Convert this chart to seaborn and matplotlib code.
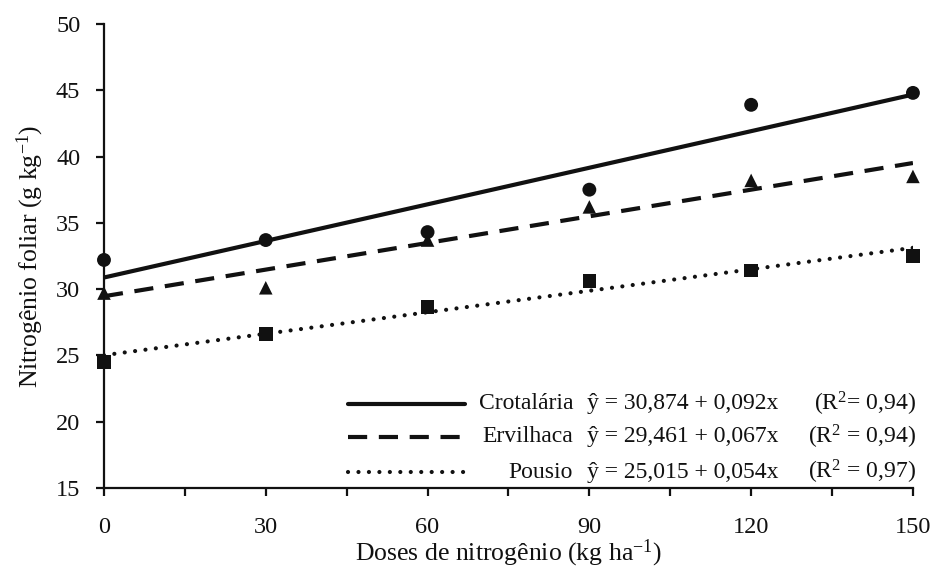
import numpy as np
import pandas as pd
import matplotlib
matplotlib.use("Agg")
import matplotlib.pyplot as plt
from matplotlib.lines import Line2D
import seaborn as sns

# ---- data -------------------------------------------------------------
doses = [0, 30, 60, 90, 120, 150]
crotalaria = [32.2, 33.7, 34.3, 37.5, 43.9, 44.8]
ervilhaca = [29.7, 30.1, 33.7, 36.2, 38.2, 38.5]
pousio = [24.5, 26.6, 28.65, 30.6, 31.4, 32.5]

series_names = ["Crotalária", "Ervilhaca", "Pousio"]
intercepts = [30.874, 29.461, 25.015]
slopes = [0.092, 0.067, 0.054]
eq_texts = ["ŷ = 30,874 + 0,092x", "ŷ = 29,461 + 0,067x", "ŷ = 25,015 + 0,054x"]
r2_texts = ["(R$^{2}$= 0,94)", "(R$^{2}$ = 0,94)", "(R$^{2}$ = 0,97)"]

y_ticks = [15, 20, 25, 30, 35, 40, 45, 50]
x_major = [0, 30, 60, 90, 120, 150]
x_minor = [15, 45, 75, 105, 135]

# ---- styling ----------------------------------------------------------
sns.set_theme(style="ticks")
plt.rcParams["font.family"] = ["Liberation Serif", "DejaVu Serif"]
plt.rcParams["mathtext.fontset"] = "custom"
plt.rcParams["mathtext.rm"] = "Liberation Serif"
plt.rcParams["mathtext.it"] = "Liberation Serif:italic"
plt.rcParams["mathtext.bf"] = "Liberation Serif:bold"

INK = "#111111"
markers = {"Crotalária": "o", "Ervilhaca": "^", "Pousio": "s"}
msizes = {"Crotalária": 100, "Ervilhaca": 95, "Pousio": 95}
lstyles = {
    "Crotalária": dict(linestyle="-"),
    "Ervilhaca": dict(linestyle=(0, (4.6, 2.8))),
    "Pousio": dict(linestyle=(0, (0.01, 2.5)), dash_capstyle="round"),
}
lw = 3.0

df = pd.DataFrame({
    "Dose": doses * 3,
    "N": crotalaria + ervilhaca + pousio,
    "Tratamento": sum([[n] * len(doses) for n in series_names], []),
})

fig = plt.figure(figsize=(9.35, 5.69), dpi=100)
ax = fig.add_axes([0.1112, 0.1424, 0.8652, 0.8155])

# regression lines
for name, a, b in zip(series_names, intercepts, slopes):
    xs = np.array([min(doses), max(doses)], dtype=float)
    line_df = pd.DataFrame({"Dose": xs, "N": a + b * xs})
    sns.lineplot(data=line_df, x="Dose", y="N", ax=ax, color=INK, lw=lw,
                 legend=False, zorder=2, **lstyles[name])

# observed points
for name in series_names:
    sub = df[df["Tratamento"] == name]
    sns.scatterplot(data=sub, x="Dose", y="N", ax=ax, marker=markers[name],
                    s=msizes[name], color=INK, edgecolor="none", linewidth=0,
                    legend=False, zorder=3, clip_on=False)

ax.set_xlim(0, 150)
ax.set_ylim(15, 50)
ax.set_xticks(x_major)
ax.set_xticks(x_minor, minor=True)
ax.set_yticks(y_ticks)
ax.set_xticklabels([str(v) for v in x_major])
ax.set_yticklabels([str(v) for v in y_ticks])

for side in ["top", "right"]:
    ax.spines[side].set_visible(False)
for side in ["left", "bottom"]:
    ax.spines[side].set_linewidth(1.6)
    ax.spines[side].set_color(INK)

ax.tick_params(axis="both", which="both", direction="out", color=INK,
               width=1.6, labelsize=17.5, labelcolor=INK)
ax.tick_params(axis="y", which="major", length=6, pad=11)
ax.tick_params(axis="x", which="major", length=6, pad=15)
ax.tick_params(axis="x", which="minor", length=6)

ax.set_xlabel("Doses de nitrogênio (kg ha$^{-1}$)", fontsize=18.5, color=INK, labelpad=0)
ax.set_ylabel("Nitrogênio foliar (g kg$^{-1}$)", fontsize=18.5, color=INK, labelpad=7)

# legend block (handles + texts)
row_y = [0.182, 0.110, 0.034]
for name, eq, r2, yy in zip(series_names, eq_texts, r2_texts, row_y):
    ln = Line2D([0.302, 0.446], [yy, yy], transform=ax.transAxes, color=INK,
                lw=lw, **lstyles[name])
    ax.add_line(ln)
    ax.text(0.580, yy, name, transform=ax.transAxes, ha="right", va="center",
            fontsize=17, color=INK)
    ax.text(0.597, yy, eq, transform=ax.transAxes, ha="left", va="center",
            fontsize=17, color=INK)
    ax.text(1.004, yy, r2, transform=ax.transAxes, ha="right", va="center",
            fontsize=17, color=INK)

fig.savefig("out.png", dpi=100, facecolor="white")
